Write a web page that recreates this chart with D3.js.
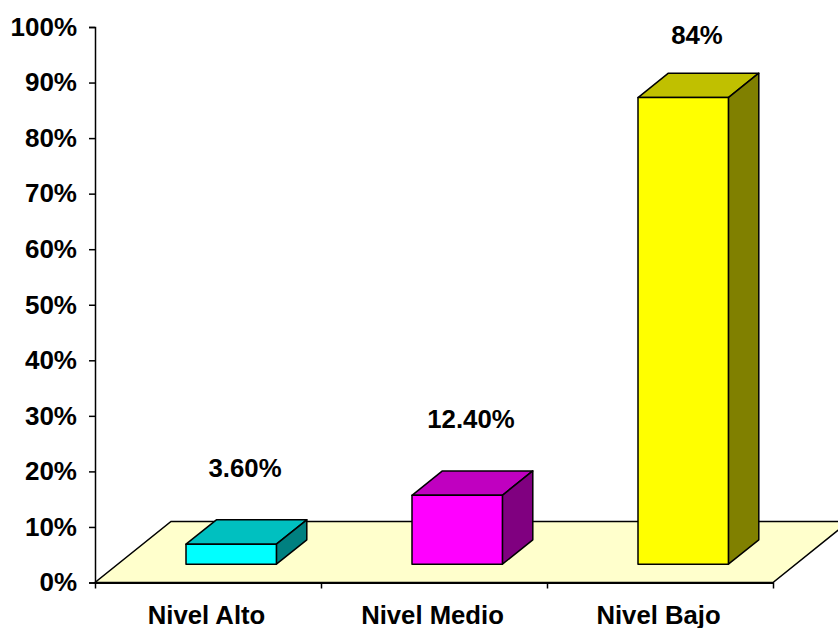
<!DOCTYPE html>
<html>
<head>
<meta charset="utf-8">
<script src="https://cdn.jsdelivr.net/npm/d3@7"></script>
<style>
    html, body { margin: 0; padding: 0; background: #fff; }
    text { font-family: "Liberation Sans", Arial, sans-serif; font-weight: bold; fill: #000; }
</style>
</head>
<body>
<div id="chart"></div>
<script>
// data
const categories = ["Nivel Alto", "Nivel Medio", "Nivel Bajo"];
const values = [3.6, 12.4, 84];
const valueLabels = ["3.60%", "12.40%", "84%"];
const yTicks = [0, 10, 20, 30, 40, 50, 60, 70, 80, 90, 100];

const frontColors = ["#00ffff", "#ff00ff", "#ffff00"];
const topColors = ["#00c0c0", "#c000c0", "#c0c000"];
const sideColors = ["#008080", "#800080", "#808000"];

const svgWidth = 838, svgHeight = 628;
const margin = {top: 27, right: 65, bottom: 45.5, left: 95};
const width = svgWidth - margin.left - margin.right;
const height = svgHeight - margin.top - margin.bottom;

// floor depth of the 3d box, bars sit 30% in and use 40% of it
const floorDx = 76, floorDy = -61;
const barStart = 0.3, barDepth = 0.4;

const svg = d3.select("#chart").append("svg")
    .attr("width", svgWidth)
    .attr("height", svgHeight)
    .style("display", "block")
    .append("g")
    .attr("transform", "translate(" + margin.left + "," + margin.top + ")");

const y = d3.scaleLinear().domain([0, 100]).range([height, 0]);

const x = d3.scaleBand()
    .domain(categories)
    .range([0, width])
    .paddingInner(0.6)
    .paddingOuter(0.3);

// band edges, for the tick marks between categories
const xEdges = d3.scaleLinear().domain([0, categories.length]).range([0, width]);

// floor
const floor = [[0, height], [width, height], [width + floorDx, height + floorDy], [floorDx, height + floorDy]];
svg.append("path")
    .attr("d", d3.line()(floor) + "Z")
    .attr("fill", "#ffffcc")
    .attr("stroke", "#000")
    .attr("stroke-width", 1.5);

// bars
const line = d3.line();
const bars = svg.selectAll(".bar")
    .data(categories)
    .enter()
    .append("g")
    .attr("class", "bar")
    .attr("transform", "translate(" + (floorDx * barStart + 0.4) + "," + (floorDy * barStart) + ")");

const dx = floorDx * barDepth, dy = floorDy * barDepth;

function barBox(i) {
    const x0 = x(categories[i]), x1 = x0 + x.bandwidth();
    // bar grows from the 0 line, height follows the value scale
    return {x0: x0, x1: x1, yTop: y(values[i]), yBase: y(0)};
}

bars.append("path")
    .attr("d", (d, i) => {
        const b = barBox(i);
        return line([[b.x0, b.yTop], [b.x1, b.yTop], [b.x1 + dx, b.yTop + dy], [b.x0 + dx, b.yTop + dy]]) + "Z";
    })
    .attr("fill", (d, i) => topColors[i]);

bars.append("path")
    .attr("d", (d, i) => {
        const b = barBox(i);
        return line([[b.x1, b.yTop], [b.x1 + dx, b.yTop + dy], [b.x1 + dx, b.yBase + dy], [b.x1, b.yBase]]) + "Z";
    })
    .attr("fill", (d, i) => sideColors[i]);

bars.append("rect")
    .attr("x", (d, i) => barBox(i).x0)
    .attr("y", (d, i) => barBox(i).yTop)
    .attr("width", x.bandwidth())
    .attr("height", (d, i) => y(0) - y(values[i]))
    .attr("fill", (d, i) => frontColors[i]);

bars.selectAll("path, rect")
    .attr("stroke", "#000")
    .attr("stroke-width", 1.5)
    .attr("stroke-linejoin", "round");

// value labels
svg.selectAll(".value-label")
    .data(valueLabels)
    .enter()
    .append("text")
    .attr("class", "value-label")
    .attr("text-anchor", "middle")
    .attr("x", (d, i) => x(categories[i]) + x.bandwidth() / 2 + 37)
    .attr("y", (d, i) => Math.max(y(values[i]) - 85.5, 17))
    .style("font-size", "25.8px")
    .text(d => d);

// axes
const yAxis = d3.axisLeft(y)
    .tickValues(yTicks)
    .tickFormat(d => d + "%")
    .tickSize(6)
    .tickPadding(12);

const yG = svg.append("g").attr("class", "y-axis").call(yAxis);

const xMarks = d3.axisBottom(xEdges)
    .tickValues(d3.range(categories.length + 1))
    .tickFormat("")
    .tickSize(6)
    .tickSizeOuter(0);

const xMarksG = svg.append("g")
    .attr("class", "x-ticks")
    .attr("transform", "translate(0," + height + ")")
    .call(xMarks);

const xAxis = d3.axisBottom(x).tickSize(0).tickPadding(23);

const xG = svg.append("g")
    .attr("class", "x-axis")
    .attr("transform", "translate(0," + height + ")")
    .call(xAxis);

xG.select(".domain").remove();

svg.selectAll(".y-axis text, .x-axis text")
    .style("font-family", "'Liberation Sans', Arial, sans-serif")
    .style("font-size", "26px");

svg.selectAll(".x-axis text")
    .attr("dx", -1.5)
    .style("font-size", "25.7px");

svg.selectAll(".domain, .tick line")
    .attr("stroke", "#000")
    .attr("stroke-width", 1.5);
xMarksG.select(".domain").attr("stroke-width", 2);
</script>
</body>
</html>
